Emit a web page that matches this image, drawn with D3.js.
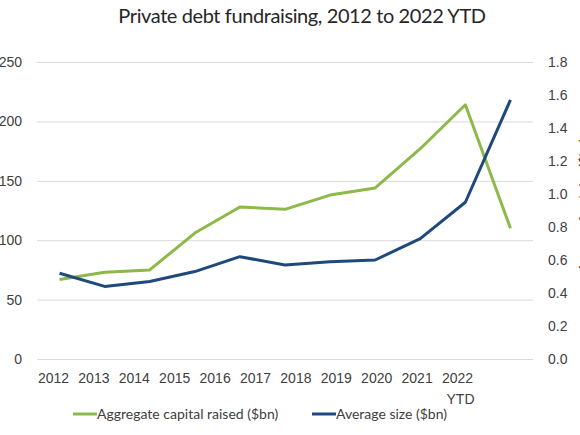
<!DOCTYPE html>
<html>
<head>
<meta charset="utf-8">
<script src="https://cdn.jsdelivr.net/npm/d3@7"></script>
<style>
  body { margin: 0; background: #fff; }
  svg { display: block; font-family: Lato, "Open Sans", sans-serif; }
  .tick text { fill: #404040; font-size: 14px; }
</style>
</head>
<body>
<div id="chart"></div>
<script>
var years = ["2012", "2013", "2014", "2015", "2016", "2017", "2018", "2019", "2020", "2021", "2022"];
var aggregateCapital = [67, 73, 75, 106, 128, 126, 138, 144, 177, 214, 110];
var averageSize = [0.52, 0.44, 0.47, 0.53, 0.62, 0.57, 0.59, 0.60, 0.73, 0.95, 1.57];
var leftTicks = [0, 50, 100, 150, 200, 250];
var rightTicks = [0, 0.2, 0.4, 0.6, 0.8, 1.0, 1.2, 1.4, 1.6, 1.8];

var svgWidth = 580;
var svgHeight = 435;

var svg = d3.select("#chart")
  .append("svg")
  .attr("width", svgWidth)
  .attr("height", svgHeight);

var plotLeft = 37, plotRight = 533, plotTop = 62, plotBottom = 359;

// scales
var xScale = d3.scalePoint()
  .domain(years)
  .range([plotLeft, plotRight])
  .padding(0.5);

// the category labels sit on their own spacing in the original
var xLabelScale = d3.scalePoint()
  .domain(years)
  .range([53, 457]);

var yLeft = d3.scaleLinear().domain([0, 250]).range([plotBottom, plotTop]);
var yRight = d3.scaleLinear().domain([0, 1.8]).range([plotBottom, plotTop]);

// title
svg.append("text")
  .attr("x", 302)
  .attr("y", 23)
  .attr("text-anchor", "middle")
  .attr("fill", "#262626")
  .style("font-size", "20px")
  .style("letter-spacing", "-0.4px")
  .text("Private debt fundraising, 2012 to 2022 YTD");

// gridlines
var grid = svg.append("g")
  .attr("transform", `translate(${plotLeft}, 0)`)
  .call(d3.axisRight(yLeft).tickValues(leftTicks).tickSize(plotRight - plotLeft).tickFormat(""));
grid.select(".domain").remove();
grid.selectAll("line").attr("stroke", "#d9d9d9").attr("stroke-width", 1);

// left axis
var leftAxis = svg.append("g")
  .attr("transform", "translate(22, 0)")
  .call(d3.axisLeft(yLeft).tickValues(leftTicks).tickSize(0).tickPadding(0));
leftAxis.select(".domain").remove();

// right axis
var rightAxis = svg.append("g")
  .attr("transform", "translate(548, 0)")
  .call(d3.axisRight(yRight).tickValues(rightTicks).tickSize(0).tickPadding(0).tickFormat(d3.format(".1f")));
rightAxis.select(".domain").remove();

// right axis title, mostly cut off by the edge
svg.append("text")
  .attr("transform", "translate(589, 205) rotate(-90)")
  .attr("text-anchor", "middle")
  .attr("fill", "#404040")
  .style("font-size", "13px")
  .text("Average fund size ($bn)");

// x labels
var xAxis = svg.append("g")
  .attr("transform", "translate(0, 373)")
  .call(d3.axisBottom(xLabelScale).tickSize(0).tickPadding(0)
    .tickFormat(d => d));
xAxis.select(".domain").remove();
xAxis.selectAll(".tick text").attr("dy", "0.71em");
xAxis.selectAll(".tick")
  .filter(d => d === "2022")
  .append("text")
  .attr("y", 21)
  .attr("x", 3)
  .attr("dy", "0.71em")
  .attr("fill", "#404040")
  .style("font-size", "14px")
  .text("YTD");

// lines
var lineLeft = d3.line()
  .x((d, i) => xScale(years[i]))
  .y(d => yLeft(d));

var lineRight = d3.line()
  .x((d, i) => xScale(years[i]))
  .y(d => yRight(d));

svg.append("path")
  .datum(aggregateCapital)
  .attr("d", lineLeft)
  .attr("fill", "none")
  .attr("stroke", "#8db84a")
  .attr("stroke-width", 3)
  .attr("stroke-linejoin", "round");

svg.append("path")
  .datum(averageSize)
  .attr("d", lineRight)
  .attr("fill", "none")
  .attr("stroke", "#1f497d")
  .attr("stroke-width", 3)
  .attr("stroke-linejoin", "round");

// legend
var legendItems = [
  { label: "Aggregate capital raised ($bn)", color: "#8db84a", x: 73 },
  { label: "Average size ($bn)", color: "#1f497d", x: 312 }
];

var legend = svg.selectAll(".legend")
  .data(legendItems)
  .enter()
  .append("g")
  .attr("class", "legend")
  .attr("transform", d => `translate(${d.x}, 414)`);

legend.append("line")
  .attr("x1", 0)
  .attr("x2", 24)
  .attr("stroke", d => d.color)
  .attr("stroke-width", 3);

legend.append("text")
  .attr("x", 24)
  .attr("dy", "0.35em")
  .attr("fill", "#404040")
  .style("font-size", "14px")
  .text(d => d.label);
</script>
</body>
</html>
